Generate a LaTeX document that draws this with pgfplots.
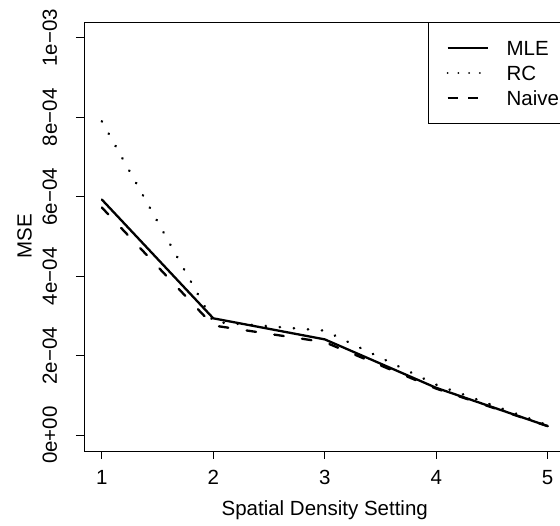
\documentclass[border=0pt]{standalone}
\usepackage{fontspec}
\setmainfont{Liberation Sans}
\usepackage{pgfplots}
\pgfplotsset{compat=1.18}
\newcommand{\fs}{\fontsize{20.5}{24}\selectfont}
\begin{document}
\begin{tikzpicture}
\useasboundingbox (-84pt,-75pt) rectangle (476pt,451pt);
\clip (-84pt,-75pt) rectangle (476pt,451pt);
\begin{axis}[
  at={(0pt,0pt)}, anchor=south west,
  scale only axis, width=481.5pt, height=429pt,
  xmin=0.84, xmax=5.16, ymin=-0.00004, ymax=0.00104,
  axis line style={line width=0.9pt},
  tick style={line width=0.9pt, black},
  tick align=outside, tick pos=left, major tick length=8pt,
  xtick={1,2,3,4,5},
  xticklabels={1,2,3,4,5},
  ytick={0,0.0002,0.0004,0.0006,0.0008,0.001},
  yticklabels={0e+00,2e−04,4e−04,6e−04,8e−04,1e−03},
  scaled y ticks=false,
  xticklabel style={font=\fs, anchor=north, inner sep=0pt, yshift=-11pt},
  yticklabel style={font=\fs, xshift=-19pt, rotate=90, anchor=base, inner sep=0pt},
  xlabel={Spatial Density Setting},
  xlabel style={font=\fs, at={(axis description cs:0.5,0)}, anchor=base, yshift=-65pt, inner sep=0pt},
  ylabel={MSE},
  ylabel style={font=\fs, at={([xshift=-52.3pt]axis description cs:0,0.5)}, anchor=base, inner sep=0pt},
  legend image code/.code={\draw[#1] (0pt,0pt) -- (40pt,0pt);},
  legend style={at={([xshift=12pt]rel axis cs:1,1)}, anchor=north east, draw=black, line width=0.9pt,
    inner xsep=18pt, inner ysep=18pt, row sep=10pt, column sep=18pt, font=\fs,
    cells={anchor=west}, nodes={inner sep=0pt, text height=15pt, text depth=0pt}},
]
\addplot[black, line width=2.3pt, line cap=round, line join=round, forget plot]
  coordinates {(1,0.000593) (2,0.000294) (3,0.000241) (4,0.000119) (5,0.0000227)};
\addplot[black, line width=2.6pt, line cap=round, dash pattern=on 0.3pt off 13.8pt, forget plot]
  coordinates {(1,0.000790) (2,0.000285) (3,0.000263) (4,0.000127) (5,0.000025)};
\addplot[black, line width=2.3pt, line cap=round, line join=round, dash pattern=on 9.5pt off 18.5pt, forget plot]
  coordinates {(1,0.000573) (2,0.000276) (3,0.000234) (4,0.000117) (5,0.0000225)};
\addlegendimage{black, line width=1.5pt}
\addlegendentry{MLE}
\addlegendimage{black, line width=2pt, line cap=round, dash pattern=on 0.01pt off 10.7pt}
\addlegendentry{RC}
\addlegendimage{black, line width=1.5pt, dash pattern=on 10pt off 10.7pt}
\addlegendentry{Naive}
\end{axis}
\end{tikzpicture}
\end{document}
